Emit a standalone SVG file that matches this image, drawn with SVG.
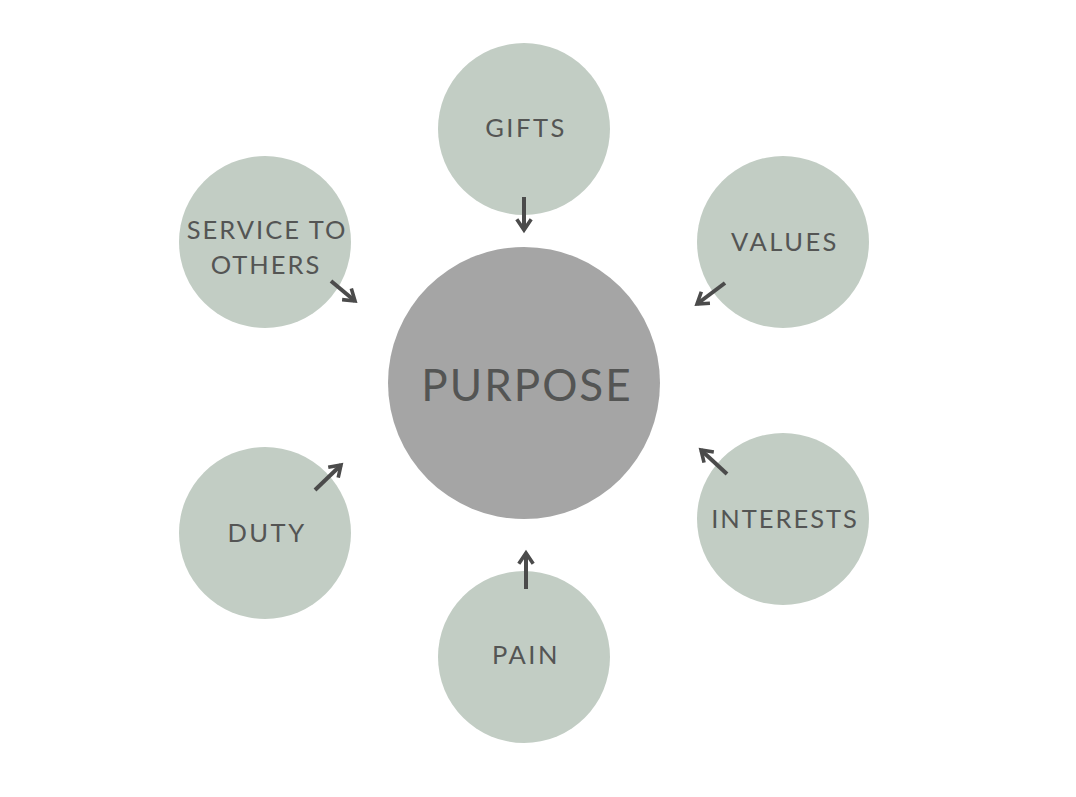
<svg xmlns="http://www.w3.org/2000/svg" width="1076" height="797" viewBox="0 0 1076 797">
<defs>
<style>
.sat{fill:#c2cdc4}
.lbl{font-family:Lato,"Liberation Sans",sans-serif;fill:#545554;font-size:25.5px;letter-spacing:2.5px;text-anchor:middle;dominant-baseline:central}
.conn line{stroke:#4b4b4b;stroke-width:4;stroke-linecap:butt}
</style>
<marker id="ah" viewBox="0 0 10 10" refX="7" refY="5" markerWidth="4.5" markerHeight="4.5" markerUnits="strokeWidth" orient="auto">
<path d="M1,1 L7,5 L1,9" fill="none" stroke="#4b4b4b" stroke-width="2"/>
</marker>
</defs>
<rect width="1076" height="797" fill="#ffffff"/>
<g id="purpose">
<circle cx="524" cy="383" r="136" fill="#a5a5a5"/>
<text class="lbl" x="527" y="384" style="font-size:44px;letter-spacing:2px">PURPOSE</text>
</g>
<g id="gifts">
<circle class="sat" cx="524" cy="129" r="86"/>
<text class="lbl" x="526" y="127">GIFTS</text>
</g>
<g id="service">
<circle class="sat" cx="265" cy="242" r="86"/>
<text class="lbl" x="267" y="229" style="letter-spacing:2px">SERVICE TO</text>
<text class="lbl" x="266" y="264" style="letter-spacing:2px">OTHERS</text>
</g>
<g id="values">
<circle class="sat" cx="783" cy="242" r="86"/>
<text class="lbl" x="785" y="241">VALUES</text>
</g>
<g id="duty">
<circle class="sat" cx="265" cy="533" r="86"/>
<text class="lbl" x="267" y="532">DUTY</text>
</g>
<g id="interests">
<circle class="sat" cx="783" cy="519" r="86"/>
<text class="lbl" x="785" y="518" style="letter-spacing:2px">INTERESTS</text>
</g>
<g id="pain">
<circle class="sat" cx="524" cy="657" r="86"/>
<text class="lbl" x="526" y="654">PAIN</text>
</g>
<g id="connectors" class="conn">
<line x1="524" y1="197" x2="524" y2="230" marker-end="url(#ah)"/>
<line x1="331" y1="281" x2="355" y2="301" marker-end="url(#ah)"/>
<line x1="725" y1="283" x2="697" y2="304" marker-end="url(#ah)"/>
<line x1="727" y1="474" x2="701" y2="450" marker-end="url(#ah)"/>
<line x1="315" y1="490" x2="341" y2="465" marker-end="url(#ah)"/>
<line x1="526" y1="589" x2="526" y2="553" marker-end="url(#ah)"/>
</g>
</svg>
